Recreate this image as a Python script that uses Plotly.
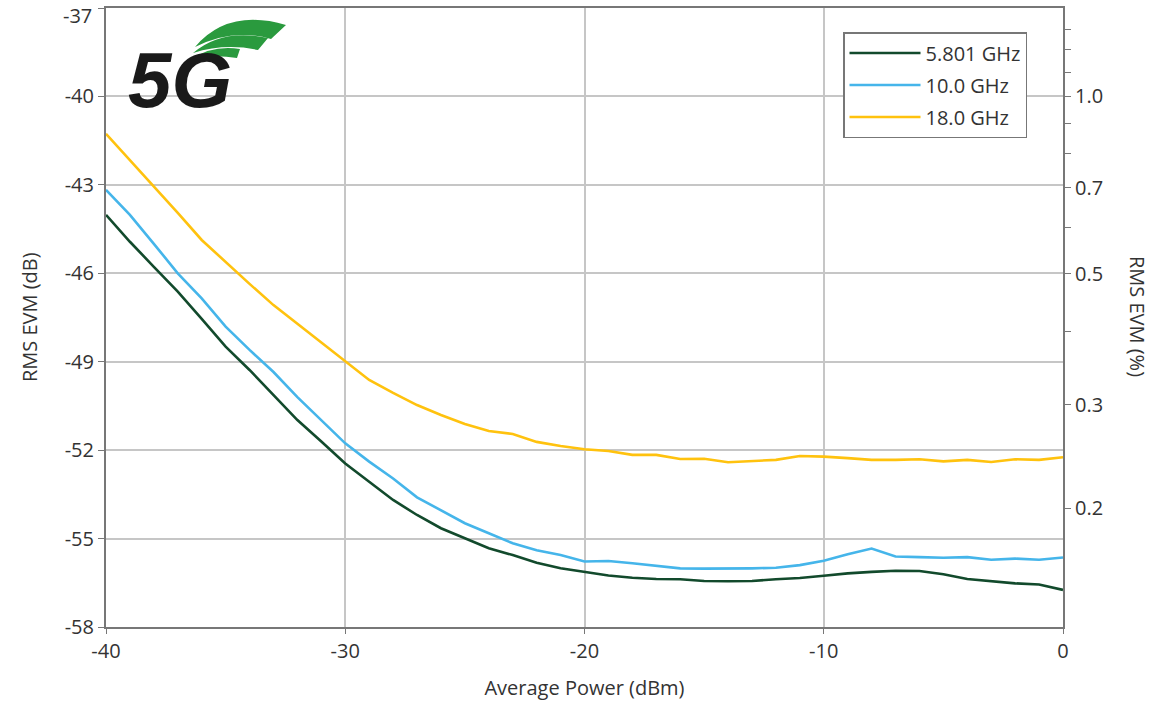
import math
import plotly.graph_objects as go

# ---- data ----
power_dbm = list(range(-40, 1))

evm_5801 = [-44.02, -44.93, -45.78, -46.62, -47.55, -48.49, -49.28, -50.13, -50.98, -51.71,
            -52.45, -53.07, -53.69, -54.20, -54.65, -54.99, -55.33, -55.56, -55.82, -56.01,
            -56.14, -56.25, -56.33, -56.37, -56.38, -56.44, -56.45, -56.44, -56.38, -56.34,
            -56.26, -56.18, -56.13, -56.09, -56.10, -56.21, -56.37, -56.44, -56.52, -56.56,
            -56.74]

evm_10 = [-43.17, -44.02, -45.00, -46.00, -46.85, -47.81, -48.60, -49.35, -50.20, -51.00,
          -51.77, -52.39, -52.96, -53.60, -54.03, -54.48, -54.82, -55.16, -55.40, -55.56,
          -55.78, -55.76, -55.84, -55.92, -56.01, -56.02, -56.02, -56.01, -55.99, -55.90,
          -55.75, -55.53, -55.34, -55.61, -55.63, -55.65, -55.63, -55.72, -55.68, -55.72,
          -55.64]

evm_18 = [-41.27, -42.16, -43.07, -43.95, -44.87, -45.62, -46.36, -47.08, -47.72, -48.37,
          -49.01, -49.62, -50.06, -50.47, -50.81, -51.11, -51.35, -51.45, -51.72, -51.86,
          -51.97, -52.03, -52.16, -52.16, -52.30, -52.29, -52.41, -52.36, -52.33, -52.20,
          -52.22, -52.27, -52.33, -52.33, -52.31, -52.38, -52.33, -52.40, -52.31, -52.33,
          -52.24]

series_names = ["5.801 GHz", "10.0 GHz", "18.0 GHz"]
series_colors = ["#124a2c", "#45b5ea", "#ffc20e"]

left_ticks = [-58, -55, -52, -49, -46, -43, -40, -37]
left_labels = ["-58", "-55", "-52", "-49", "-46", "-43", "-40", "-37"]
right_pct_major = [1.0, 0.7, 0.5, 0.3, 0.2]
right_pct_minor = [1.3, 1.2, 1.1, 0.9, 0.8, 0.6, 0.4]
x_ticks = [-40, -30, -20, -10, 0]
x_labels = ["-40", "-30", "-20", "-10", "0"]

def pct_to_db(p):
    return 20 * math.log10(p / 100.0)

FONT = "Open Sans"
TXT = "#333333"
FS = 20

fig = go.Figure()
for name, ys, col in zip(series_names, [evm_5801, evm_10, evm_18], series_colors):
    fig.add_trace(go.Scatter(x=power_dbm, y=ys, mode="lines", name=name,
                             legendgroup=name,
                             line=dict(color=col, width=2.6)))
# invisible trace to anchor the right axis
fig.add_trace(go.Scatter(x=[None], y=[None], yaxis="y2", showlegend=False,
                         hoverinfo="skip"))

L, R, T, B = 106, 105, 8, 78
W, H = 1168, 705
pw, ph = W - L - R, H - T - B

def px(x):
    return (x - L) / pw

def py(y):
    return 1 - (y - T) / ph

# top label is drawn separately (slightly lowered so it is not clipped)
axis_labels = [lab if v != max(left_ticks) else "" for v, lab in zip(left_ticks, left_labels)]

fig.update_layout(
    width=W, height=H,
    margin=dict(l=L, r=R, t=T, b=B, autoexpand=False),
    paper_bgcolor="white", plot_bgcolor="white",
    font=dict(family=FONT, size=FS, color=TXT),
    showlegend=True,
    legend=dict(x=px(843), y=py(32), xanchor="left", yanchor="top",
                bordercolor="#777777", borderwidth=1.5, bgcolor="white",
                font=dict(size=FS, family=FONT, color=TXT),
                tracegroupgap=3, itemwidth=71),
    xaxis=dict(range=[-40, 0], tickvals=x_ticks, ticktext=x_labels, showgrid=True,
               gridcolor="#c6c6c6", gridwidth=1.5, showline=True, linecolor="#777777",
               linewidth=2, mirror=True, ticks="outside", ticklen=5, tickcolor="#777777",
               zeroline=False, tickfont=dict(size=FS, color=TXT),
               ticklabeloverflow="allow",
               title=dict(text="Average Power (dBm)", standoff=18,
                          font=dict(size=FS, color=TXT))),
    yaxis=dict(range=[-58, -37], tickvals=left_ticks, ticktext=axis_labels, showgrid=True,
               gridcolor="#c6c6c6", gridwidth=1.5, showline=True, linecolor="#777777",
               linewidth=2, ticks="outside", ticklen=6, tickcolor="#777777",
               zeroline=False, tickfont=dict(size=FS, color=TXT),
               ticklabeloverflow="allow"),
    yaxis2=dict(range=[-58, -37], overlaying="y", side="right",
                tickvals=[pct_to_db(v) for v in right_pct_major],
                ticktext=["%.1f" % v for v in right_pct_major],
                showgrid=False, showline=True, linecolor="#777777", linewidth=2,
                ticks="outside", ticklen=6, tickcolor="#777777", zeroline=False,
                tickfont=dict(size=FS, color=TXT),
                minor=dict(tickvals=[pct_to_db(v) for v in right_pct_minor],
                           ticks="outside", ticklen=6, tickcolor="#777777",
                           showgrid=False)),
)

fig.add_annotation(text=left_labels[-1], xref="paper", yref="paper",
                   x=px(94), y=py(15), xanchor="right", yanchor="middle",
                   showarrow=False, font=dict(size=FS, color=TXT, family=FONT))

# left axis title
fig.add_annotation(text="RMS EVM (dB)", xref="paper", yref="paper",
                   x=px(29), y=py(317), xanchor="center", yanchor="middle",
                   showarrow=False, textangle=-90,
                   font=dict(size=FS, color=TXT, family=FONT))

# right axis title (reads top-to-bottom)
fig.add_annotation(text="RMS EVM (%)", xref="paper", yref="paper",
                   x=px(1138), y=py(316), xanchor="center", yanchor="middle",
                   showarrow=False, textangle=90,
                   font=dict(size=FS, color=TXT, family=FONT))

# 5G logo (decorative)
fig.add_annotation(text="<b><i>5G</i></b>", xref="paper", yref="paper",
                   x=px(180), y=py(80), xanchor="center", yanchor="middle",
                   showarrow=False,
                   font=dict(size=78, color="#1a1a1a", family="Liberation Sans"))

def arc_path(tip, c_up, r_top, r_bot, c_low):
    pts = [tip, c_up, r_top, r_bot, c_low, tip]
    p = [(px(a), py(b)) for a, b in pts]
    return ("M %f,%f Q %f,%f %f,%f L %f,%f Q %f,%f %f,%f Z" %
            (p[0][0], p[0][1], p[1][0], p[1][1], p[2][0], p[2][1],
             p[3][0], p[3][1], p[4][0], p[4][1], p[5][0], p[5][1]))

arcs = [
    ((195, 47), (228, 8), (286, 25), (271, 39), (232, 28)),
    ((193, 53), (222, 28), (268, 38), (258, 50), (225, 43)),
    ((192, 59), (212, 45), (240, 49), (237, 58), (213, 54)),
]
for a in arcs:
    fig.add_shape(type="path", path=arc_path(*a), xref="paper", yref="paper",
                  fillcolor="#2a9a3e", line=dict(width=0))

fig.write_html("out.html", config={"displayModeBar": False},
               post_script="document.body.style.margin='0';")
